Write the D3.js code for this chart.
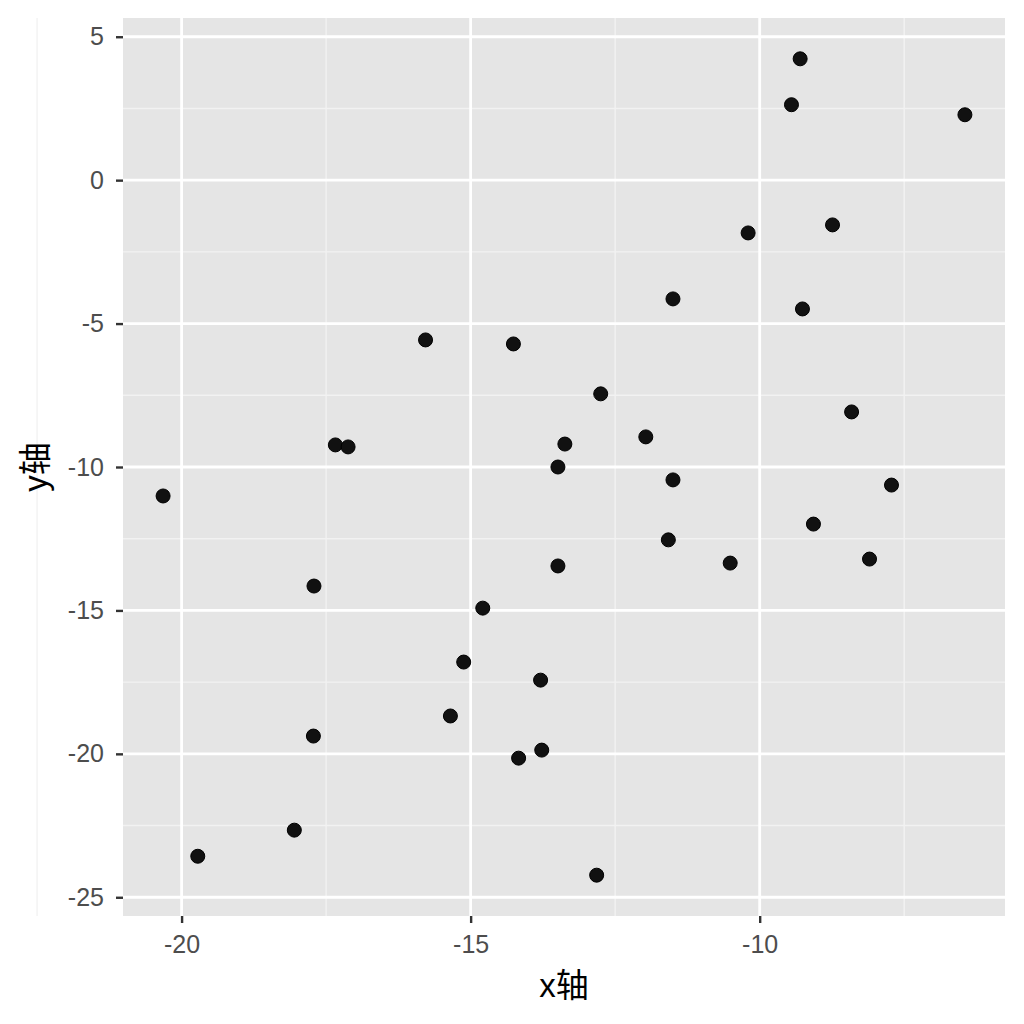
<!DOCTYPE html>
<html><head><meta charset="utf-8">
<script src="https://cdn.jsdelivr.net/npm/d3@7"></script>
<style>html,body{margin:0;padding:0;background:#fff;overflow:hidden;}svg{display:block;}</style>
</head><body>
<svg id="chart" width="1024" height="1024"></svg>
<script>
const xValues = [-6.45,-9.30,-9.45,-10.20,-8.74,-11.50,-9.26,-15.78,-14.26,-12.75,-8.41,-11.97,-17.34,-17.12,-13.37,-13.49,-11.50,-7.72,-20.32,-9.07,-11.58,-10.51,-8.10,-13.49,-17.71,-14.79,-15.12,-13.79,-15.35,-17.72,-13.77,-14.17,-18.05,-19.72,-12.82];
const yValues = [2.28,4.23,2.63,-1.84,-1.56,-4.14,-4.49,-5.57,-5.71,-7.45,-8.08,-8.95,-9.23,-9.30,-9.20,-10.00,-10.45,-10.63,-11.01,-11.99,-12.54,-13.35,-13.21,-13.45,-14.15,-14.92,-16.80,-17.43,-18.68,-19.38,-19.87,-20.15,-22.66,-23.57,-24.23];
const xTicks = [-20,-15,-10];
const yTicks = [5,0,-5,-10,-15,-20,-25];
const xMinor = [-22.5,-17.5,-12.5,-7.5];
const yMinor = [2.5,-2.5,-7.5,-12.5,-17.5,-22.5];
const xTitle = "x轴", yTitle = "y轴";

const W = 1024, H = 1024;
const m = {left:123, top:18, right:19, bottom:108};
const pw = W - m.left - m.right, ph = H - m.top - m.bottom;
const svg = d3.select("#chart");
svg.append("rect").attr("width",W).attr("height",H).attr("fill","#fff");
const g = svg.append("g").attr("transform",`translate(${m.left},${m.top})`);

function expand(ext){const r=ext[1]-ext[0];return [ext[0]-0.05*r, ext[1]+0.05*r];}
const x = d3.scaleLinear().domain(expand(d3.extent(xValues))).range([0,pw]);
const y = d3.scaleLinear().domain(expand(d3.extent(yValues))).range([ph,0]);

g.append("rect").attr("width",pw).attr("height",ph).attr("fill","#e5e5e5");
g.selectAll(".xmin").data(xMinor).join("line").attr("x1",d=>x(d)).attr("x2",d=>x(d)).attr("y1",0).attr("y2",ph).attr("stroke","#f2f2f2").attr("stroke-width",1.4);
g.selectAll(".ymin").data(yMinor).join("line").attr("y1",d=>y(d)).attr("y2",d=>y(d)).attr("x1",0).attr("x2",pw).attr("stroke","#f2f2f2").attr("stroke-width",1.4);
g.selectAll(".xmaj").data(xTicks).join("line").attr("x1",d=>x(d)).attr("x2",d=>x(d)).attr("y1",0).attr("y2",ph).attr("stroke","#fff").attr("stroke-width",2.8);
g.selectAll(".ymaj").data(yTicks).join("line").attr("y1",d=>y(d)).attr("y2",d=>y(d)).attr("x1",0).attr("x2",pw).attr("stroke","#fff").attr("stroke-width",2.8);

const fmt = d => d<0 ? "-"+Math.abs(d) : String(d);
const xAxis = g.append("g").attr("transform",`translate(0,${ph})`)
  .call(d3.axisBottom(x).tickValues(xTicks).tickSize(7).tickPadding(12).tickFormat(fmt));
const yAxis = g.append("g")
  .call(d3.axisLeft(y).tickValues(yTicks).tickSize(7).tickPadding(12).tickFormat(fmt));
[xAxis,yAxis].forEach(a=>{
  a.select(".domain").remove();
  a.attr("font-size",null).attr("font-family",null);
  a.selectAll(".tick line").attr("stroke","#333").attr("stroke-width",2.4);
  a.selectAll(".tick text").attr("fill","#4d4d4d")
    .attr("font-family","Liberation Sans, Arial, sans-serif").attr("font-size",25);
});

g.selectAll("circle").data(xValues.map((v,i)=>[v,yValues[i]])).join("circle")
  .attr("cx",d=>x(d[0])).attr("cy",d=>y(d[1])).attr("r",7)
  .attr("fill","#111").attr("stroke","#000").attr("stroke-width",1);

svg.append("text").attr("x",m.left+pw/2).attr("y",997).attr("text-anchor","middle")
  .attr("font-family","Liberation Sans, Noto Sans CJK SC, sans-serif").attr("font-size",33).attr("fill","#000").text(xTitle);
svg.append("text").attr("transform",`translate(47,${m.top+ph/2}) rotate(-90)`).attr("text-anchor","middle")
  .attr("font-family","Liberation Sans, Noto Sans CJK SC, sans-serif").attr("font-size",33).attr("fill","#000").text(yTitle);
</script>
</body></html>
